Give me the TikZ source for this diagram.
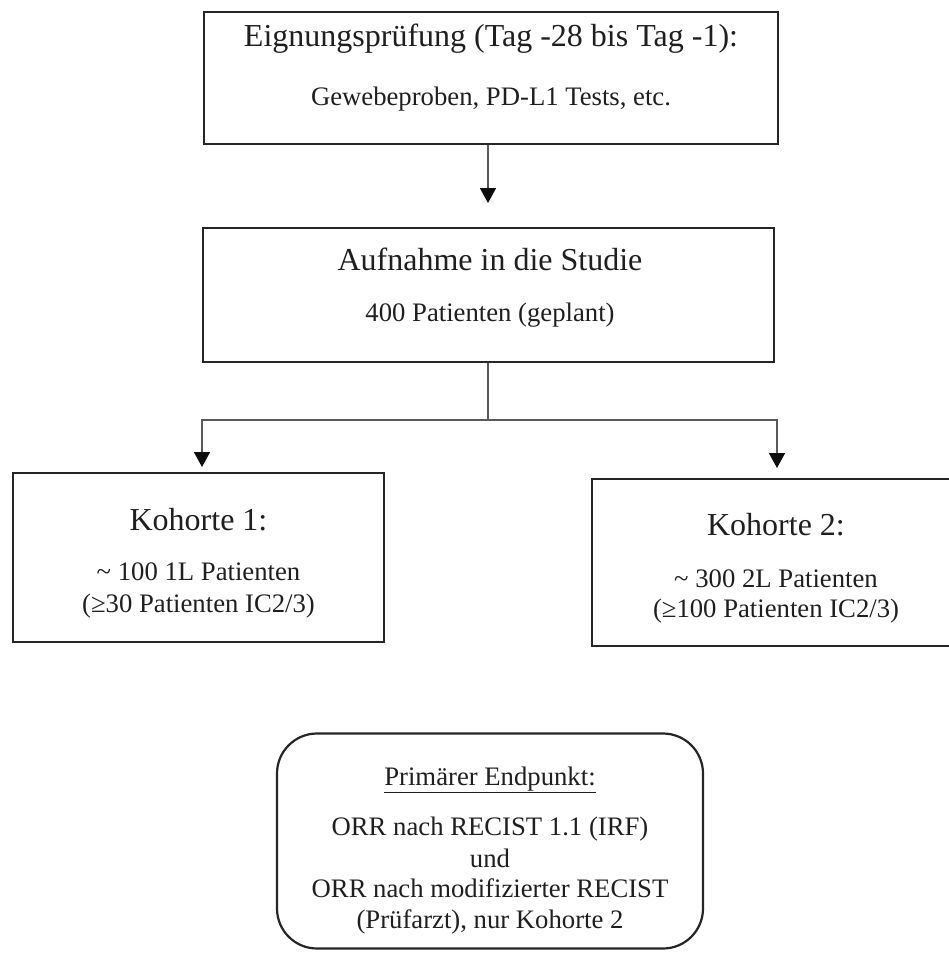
\documentclass[tikz,border=0pt]{standalone}
\usepackage{fontspec}
\setmainfont{Liberation Serif}
\usetikzlibrary{arrows.meta}
\tikzset{
  boxshape/.style={draw=black!85, line width=2.4pt, inner sep=0pt, rectangle},
  roundshape/.style={draw=black!85, line width=2.2pt, inner sep=0pt, rectangle, rounded corners=40pt},
  conn/.style={draw=black!65, line width=1.6pt},
  arr/.style={conn, -{Triangle[width=16pt,length=15pt,color=black!95]}},
  ttl/.style={anchor=base, inner sep=0pt, text=black!88, font=\fontsize{32}{38}\selectfont},
  txt/.style={anchor=base, inner sep=0pt, text=black!88, font=\fontsize{26.7}{31}\selectfont},
}
\begin{document}
\begin{tikzpicture}[x=1pt,y=-1pt]
\useasboundingbox (0,0) rectangle (949,954);
\clip (0,0) rectangle (949,954);
% boxes
\node[boxshape, minimum width=574pt, minimum height=132pt] (b1) at (491,78) {};
\node[boxshape, minimum width=571pt, minimum height=134pt] (b2) at (488.5,295) {};
\node[boxshape, minimum width=371pt, minimum height=169pt] (b3) at (198.5,557.5) {};
\node[boxshape, minimum width=368pt, minimum height=167pt] (b4) at (776,562.5) {};
\node[roundshape, minimum width=426pt, minimum height=215pt] (b5) at (490,841) {};
% texts
\node[ttl] (t1a) at (491,46) {Eignungsprüfung (Tag -28 bis Tag -1):};
\node[txt] (t1b) at (491,105) {Gewebeproben, PD-L1 Tests, etc.};
\node[ttl] (t2a) at (490,270) {Aufnahme in die Studie};
\node[txt] (t2b) at (490,321) {400 Patienten (geplant)};
\node[ttl] (t3a) at (198.5,530) {Kohorte 1:};
\node[txt] (t3b) at (198.5,580) {\char`\~\ 100 1L Patienten};
\node[txt] (t3c) at (198.5,612) {(≥30 Patienten IC2/3)};
\node[ttl] (t4a) at (776,535) {Kohorte 2:};
\node[txt] (t4b) at (776,587) {\char`\~\ 300 2L Patienten};
\node[txt] (t4c) at (776,617) {(≥100 Patienten IC2/3)};
\node[txt] (t5a) at (490,785) {\underline{Primärer Endpunkt:}};
\node[txt] (t5b) at (490,835) {ORR nach RECIST 1.1 (IRF)};
\node[txt] (t5c) at (490,867) {und};
\node[txt] (t5d) at (490,897) {ORR nach modifizierter RECIST};
\node[txt] (t5e) at (490,928) {(Prüfarzt), nur Kohorte 2};
% connectors
\coordinate (tip1) at (488,203);
\coordinate (j) at (488,420);
\coordinate (tip3) at (202,467);
\coordinate (tip4) at (777,468);
\draw[arr] (b1.south -| tip1) -- (tip1);
\draw[conn] (b2.south -| j) -- (j);
\draw[arr] (j) -| (tip3);
\draw[arr] (j) -| (tip4);
\end{tikzpicture}
\end{document}
